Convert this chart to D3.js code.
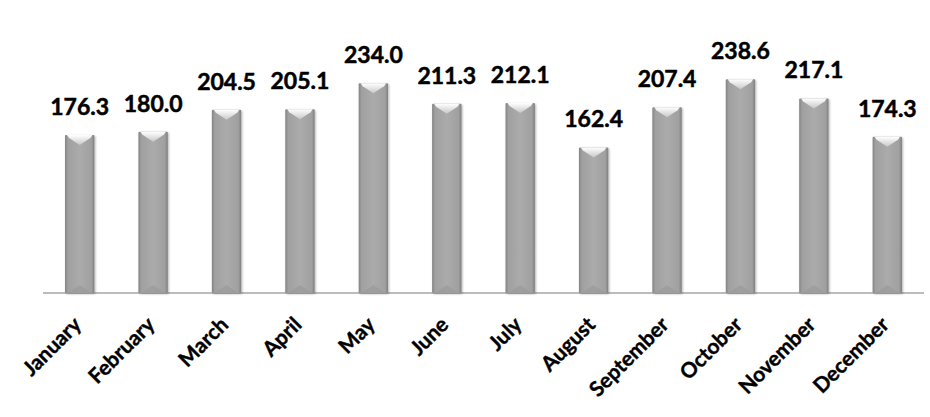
<!DOCTYPE html>
<html>
<head>
<meta charset="utf-8">
<script src="https://cdn.jsdelivr.net/npm/d3@7"></script>
<style>
  body { margin: 0; background: #fff; }
  text { font-family: Lato, "Open Sans", sans-serif; font-weight: bold; }
</style>
</head>
<body>
<svg id="chart"></svg>
<script>
const months = ['January', 'February', 'March', 'April', 'May', 'June', 'July', 'August', 'September', 'October', 'November', 'December']
const values = [176.3, 180.0, 204.5, 205.1, 234.0, 211.3, 212.1, 162.4, 207.4, 238.6, 217.1, 174.3]

const width = 930
const height = 417
const left = 43, right = 924, baseY = 293

const svg = d3.select('#chart')
  .attr('width', width)
  .attr('height', height)

const defs = svg.append('defs')
const grad = defs.append('linearGradient').attr('id', 'barGrad')
  .attr('x1', '0%').attr('x2', '100%').attr('y1', '0%').attr('y2', '0%')
grad.selectAll('stop')
  .data([[0, '#838383'], [0.1, '#a0a0a0'], [0.5, '#ababab'], [0.9, '#a0a0a0'], [1, '#7f7f7f']])
  .join('stop')
  .attr('offset', d => d[0])
  .attr('stop-color', d => d[1])

const capGrad = defs.append('linearGradient').attr('id', 'capGrad')
  .attr('x1', '0%').attr('x2', '0%').attr('y1', '0%').attr('y2', '100%')
capGrad.selectAll('stop')
  .data([[0, '#ffffff'], [1, '#c8c8c8']])
  .join('stop')
  .attr('offset', d => d[0])
  .attr('stop-color', d => d[1])

const shadow = defs.append('filter').attr('id', 'shadow')
  .attr('x', '-30%').attr('y', '-10%').attr('width', '160%').attr('height', '120%')
shadow.append('feDropShadow')
  .attr('dx', 1).attr('dy', 1).attr('stdDeviation', 1.2)
  .attr('flood-color', '#000').attr('flood-opacity', 0.3)

const x = d3.scaleBand()
  .domain(months)
  .range([left, right])
  .paddingInner(0.6)
  .paddingOuter(0.3)

const y = d3.scaleLinear()
  .domain([0, 250])
  .range([baseY, baseY - 224])

const bw = x.bandwidth()

// axis line
svg.append('line')
  .attr('x1', left).attr('x2', right)
  .attr('y1', baseY).attr('y2', baseY)
  .attr('stroke', '#a6a6a6')
  .attr('stroke-width', 1.5)

const bars = svg.selectAll('.bar')
  .data(values)
  .join('g')
  .attr('class', 'bar')
  .attr('filter', 'url(#shadow)')

bars.append('rect')
  .attr('x', (d, i) => x(months[i]))
  .attr('y', d => y(d))
  .attr('width', bw)
  .attr('height', d => baseY - y(d))
  .attr('rx', 1)
  .attr('fill', 'url(#barGrad)')

// top bevel
bars.append('path')
  .attr('d', (d, i) => {
    const x0 = x(months[i]), y0 = y(d)
    return `M${x0 + 2},${y0} L${x0 + bw - 2},${y0} L${x0 + bw - 4},${y0 + 3} L${x0 + bw / 2},${y0 + 10} L${x0 + 4},${y0 + 3} Z`
  })
  .attr('fill', 'url(#capGrad)')

// bottom bevel
bars.append('path')
  .attr('d', (d, i) => {
    const x0 = x(months[i])
    return `M${x0 + 3},${baseY} L${x0 + bw / 2},${baseY - 8} L${x0 + bw - 3},${baseY} Z`
  })
  .attr('fill', '#9a9a9a')
  .attr('opacity', 0.7)

// value labels
svg.selectAll('.val')
  .data(values)
  .join('text')
  .attr('class', 'val')
  .attr('x', (d, i) => x(months[i]) + bw / 2)
  .attr('y', d => y(d) - 20)
  .attr('text-anchor', 'middle')
  .attr('font-size', 23)
  .attr('fill', '#000')
  .attr('stroke', '#000')
  .attr('stroke-width', 0.5)
  .text(d => d.toFixed(1))

// month labels
svg.selectAll('.month')
  .data(months)
  .join('text')
  .attr('class', 'month')
  .attr('transform', d => `translate(${x(d) + bw / 2 + 3},${baseY + 33}) rotate(-45)`)
  .attr('text-anchor', 'end')
  .attr('font-size', 21)
  .attr('fill', '#000')
  .attr('stroke', '#000')
  .attr('stroke-width', 0.4)
  .text(d => d)
</script>
</body>
</html>
